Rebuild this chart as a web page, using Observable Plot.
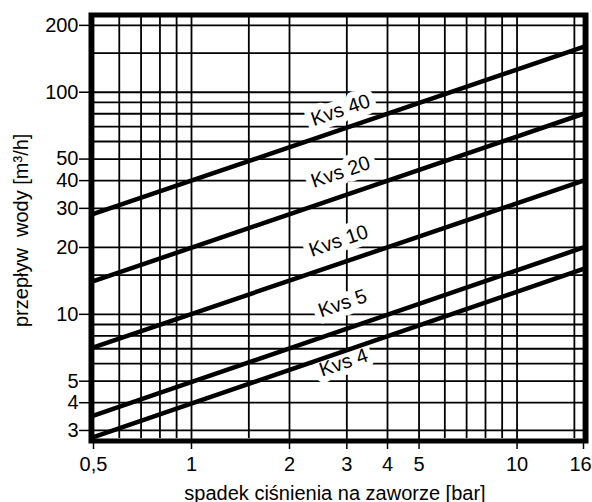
<!DOCTYPE html>
<html>
<head>
<meta charset="utf-8">
<script src="https://cdn.jsdelivr.net/npm/d3@7"></script>
<script src="https://cdn.jsdelivr.net/npm/@observablehq/plot@0.6"></script>
<style>
  html, body { margin: 0; padding: 0; background: #fff; }
</style>
</head>
<body>
<div id="chart"></div>
<script>
// Series: Kvs curves (flow vs pressure drop), read at the ends of the chart
const seriesNames = ["Kvs 40", "Kvs 20", "Kvs 10", "Kvs 5", "Kvs 4"];
const dpStart = 0.5;
const dpEnd = 16;
const flowAtStart = [28.3, 14.1, 7.1, 3.5, 2.8];
const flowAtEnd = [160, 80, 40, 20, 16];

// Curve label positions (data units)
const labelDp = [2.87, 2.87, 2.83, 2.91, 2.93];
const labelFlow = [83, 43.7, 21.4, 11.2, 6.06];

// Ticks and grid
const xTicks = [0.5, 1, 2, 3, 4, 5, 10, 16];
const yTicks = [3, 4, 5, 10, 20, 30, 40, 50, 100, 200];
const xGrid = [0.5, 0.6, 0.7, 0.8, 0.9, 1, 1.5, 2, 3, 4, 5, 6, 7, 8, 9, 10, 15, 16];
const yGrid = [3, 4, 5, 6, 7, 8, 9, 10, 15, 20, 30, 40, 50, 60, 70, 80, 90, 100, 150, 200];

const xTitle = "spadek ciśnienia na zaworze [bar]";
const yTitle = "przepływ\u00a0 wody [m³/h]";

const lineData = seriesNames.flatMap((s, i) => [
  {s, dp: dpStart, q: flowAtStart[i]},
  {s, dp: dpEnd, q: flowAtEnd[i]}
]);
const labelData = seriesNames.map((s, i) => ({s, dp: labelDp[i], q: labelFlow[i]}));
const fmt = d => String(d).replace(".", ",");
const lastX = xTicks[xTicks.length - 1];

const chart = Plot.plot({
  width: 592,
  height: 502,
  marginLeft: 93,
  marginRight: 9,
  marginTop: 17,
  marginBottom: 64,
  style: {fontFamily: "'Liberation Sans', Arial, sans-serif", fontSize: "20px", color: "black", background: "white"},
  x: {type: "log", domain: [0.5, 16]},
  y: {type: "log", domain: [2.76, 217]},
  marks: [
    Plot.ruleX(xGrid, {stroke: "black", strokeWidth: 1.8}),
    Plot.ruleY(yGrid, {stroke: "black", strokeWidth: 1.8}),
    Plot.text(labelData, {
      x: "dp", y: "q", text: "s", rotate: -19,
      fill: "black", stroke: "white", strokeWidth: 13, fontSize: 20
    }),
    Plot.line(lineData, {x: "dp", y: "q", z: "s", stroke: "black", strokeWidth: 4.5}),
    Plot.frame({inset: -2.5, stroke: "black", strokeWidth: 5}),
    Plot.axisX({
      ticks: xTicks, tickSize: 11, tickPadding: 7, strokeWidth: 1.5,
      tickFormat: d => d === lastX ? "" : fmt(d), label: null
    }),
    Plot.axisX({
      ticks: [lastX], tickSize: 0, tickPadding: 18, dx: -3,
      tickFormat: fmt, label: null
    }),
    Plot.axisY({
      ticks: yTicks, tickSize: 14, tickPadding: 1, strokeWidth: 1.5,
      tickFormat: d => String(d), label: null
    }),
    Plot.text([xTitle], {
      frameAnchor: "bottom", dy: 61, dx: -3.5, lineAnchor: "bottom", textAnchor: "middle",
      text: d => d, fill: "black", fontSize: 20
    }),
    Plot.text([yTitle], {
      frameAnchor: "left", dx: -66, dy: 99, rotate: -90, lineAnchor: "bottom", textAnchor: "start",
      text: d => d, fill: "black", fontSize: 20
    })
  ]
});
document.getElementById("chart").append(chart);
</script>
</body>
</html>
